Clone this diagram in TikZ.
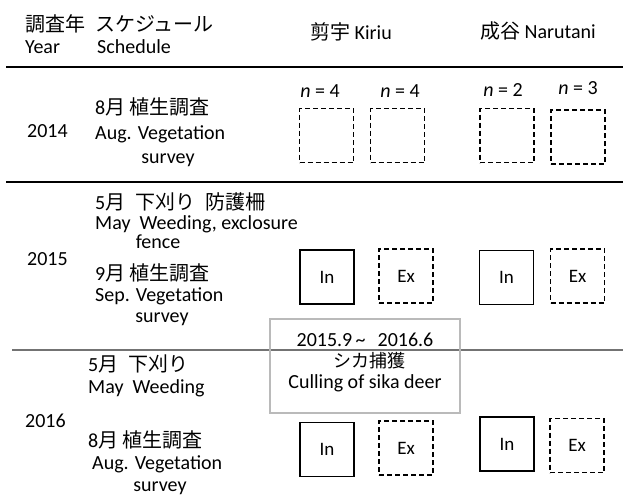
\documentclass[tikz,border=0pt]{standalone}
\usepackage{fontspec}
\setmainfont{Carlito}
\newfontfamily\jp{Noto Sans CJK JP}
\begin{document}
\begin{tikzpicture}[x=1pt,y=-1pt,
  every node/.style={inner sep=0pt, font=\fontsize{20}{24}\selectfont},
  lbl/.style={anchor=base west},
  clbl/.style={anchor=base},
  rule/.style={line width=1.8pt, black},
  grayrule/.style={line width=2pt, black!55},
  plotbox/.style={draw, line width=1.8pt, minimum width=54pt, minimum height=54pt, font=\fontsize{19}{19}\selectfont},
  dashbox/.style={plotbox, dash pattern=on 5pt off 3pt},
  cullbox/.style={draw=black!27, line width=2.5pt, minimum width=190pt, minimum height=94pt}
]
\useasboundingbox (0,0) rectangle (623,503);

% header
\node[lbl] (hy1) at (25,32) {\jp 調査年};
\node[lbl] (hy2) at (25,54) {Year};
\node[lbl] (hs1) at (95,32) {\jp スケジュール};
\node[lbl] (hs2) at (97,54) {Schedule};
\node[clbl] (hk) at (351,40) {{\jp 剪宇} Kiriu};
\node[clbl] (hn) at (538,39) {{\jp 成谷} Narutani};

% rules
\coordinate (l1a) at (6,67);  \coordinate (l1b) at (623,67);
\coordinate (l2a) at (6,182); \coordinate (l2b) at (623,182);
\coordinate (l3a) at (12,350); \coordinate (l3b) at (623,350);
\draw[rule] (l1a) -- (l1b);
\draw[rule] (l2a) -- (l2b);
\draw[grayrule] (l3a) -- (l3b);

% 2014
\node[lbl] (y14) at (27,137) {2014};
\node[lbl] (s14a) at (95,114) {8{\jp 月} {\jp 植生調査}};
\node[lbl] (s14b) at (95,139) {Aug. Vegetation};
\node[clbl] (s14c) at (168,163) {survey};
\node[clbl] (n1) at (320,97) {{\itshape n} = 4};
\node[clbl] (n2) at (400,97) {{\itshape n} = 4};
\node[clbl] (n3) at (503,96) {{\itshape n} = 2};
\node[clbl] (n4) at (578,94) {{\itshape n} = 3};
\node[dashbox] (b14k1) at (326.5,135.5) {};
\node[dashbox] (b14k2) at (397.5,135.5) {};
\node[dashbox] (b14n1) at (507,135.5) {};
\node[dashbox] (b14n2) at (578,137) {};

% 2015
\node[lbl] (y15) at (27,265) {2015};
\node[lbl] (s15a) at (95,209) {5{\jp 月}\hspace{0.5em}{\jp 下刈り}\hspace{0.5em}{\jp 防護柵}};
\node[lbl] (s15b) at (95,229) {May\ \ Weeding, exclosure};
\node[clbl] (s15c) at (158,248) {fence};
\node[lbl] (s15d) at (95,280) {9{\jp 月} {\jp 植生調査}};
\node[lbl] (s15e) at (95,301) {Sep. Vegetation};
\node[clbl] (s15f) at (162,322) {survey};
\node[plotbox] (b15k1) at (327,277) {In};
\node[dashbox] (b15k2) at (406,276) {Ex};
\node[plotbox] (b15n1) at (506.5,277.5) {In};
\node[dashbox] (b15n2) at (577.5,276) {Ex};

% culling box
\node[cullbox] (cull) at (365,366) {};
\node[clbl] (c1) at (365,346) {2015.9\,\textasciitilde\hspace{0.6em}2016.6};
\node[clbl] (c2) at (369,367) {\fontsize{18}{18}\selectfont\jp シカ捕獲};
\node[clbl] (c3) at (365,388) {Culling of sika deer};

% 2016
\node[lbl] (y16) at (25,427) {2016};
\node[lbl] (s16a) at (88,371) {5{\jp 月}\hspace{0.5em}{\jp 下刈り}};
\node[lbl] (s16b) at (88,393) {May\ \ Weeding};
\node[lbl] (s16c) at (88,447) {8{\jp 月} {\jp 植生調査}};
\node[lbl] (s16d) at (92,469) {Aug. Vegetation};
\node[clbl] (s16e) at (160,491) {survey};
\node[plotbox] (b16k1) at (327,449.5) {In};
\node[dashbox] (b16k2) at (406,448) {Ex};
\node[plotbox] (b16n1) at (507,444) {In};
\node[dashbox] (b16n2) at (577,445.5) {Ex};
\end{tikzpicture}
\end{document}
